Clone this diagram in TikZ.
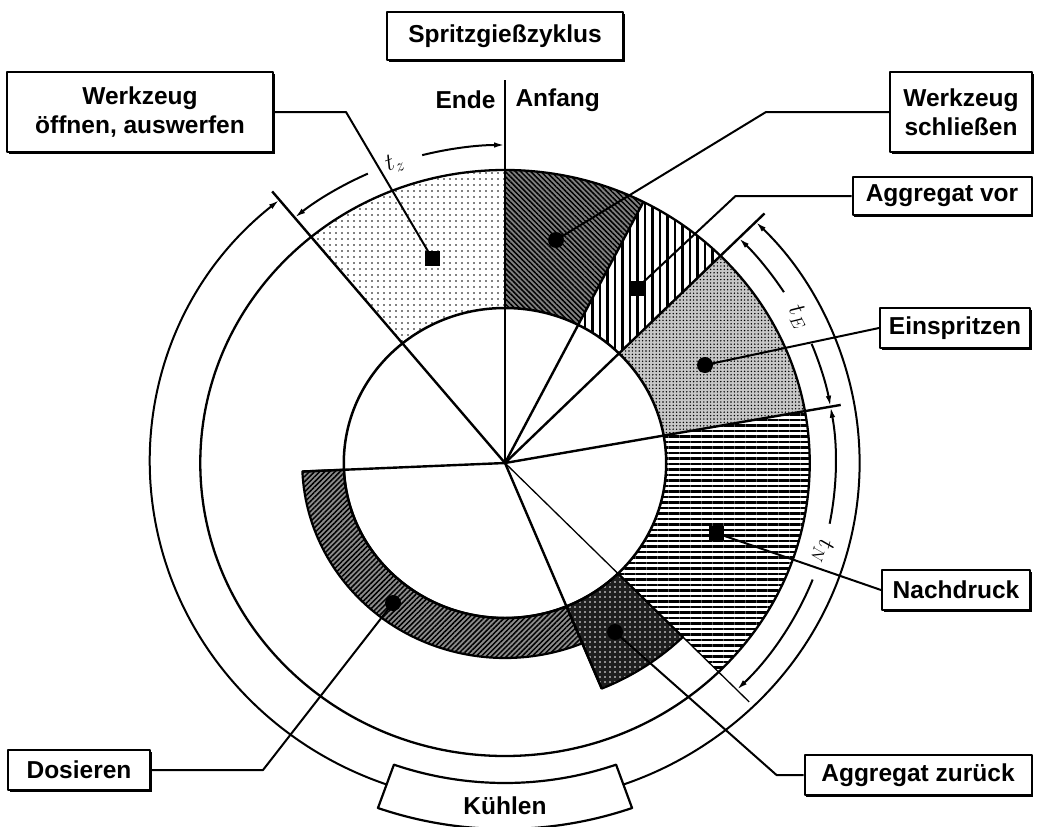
\documentclass[tikz,border=0pt]{standalone}
\usepackage{fontspec}
\setmainfont{Liberation Sans}
\usetikzlibrary{arrows.meta,patterns.meta,shadows}

% annular piece: start angle, end angle, inner radius, outer radius
\newcommand\ringpart[4]{(#1:#3) arc[start angle=#1,end angle=#2,radius=#3] -- (#2:#4) arc[start angle=#2,end angle=#1,radius=#4] -- cycle}
\newcommand\lbl{\fontsize{24.5}{29}\selectfont\bfseries}
\newcommand\tlbl{\fontsize{26}{28}\selectfont}

\tikzset{
  box/.style={draw, line width=2pt, fill=white, align=center, inner sep=0pt, font=\lbl,
    drop shadow={shadow xshift=1.6pt, shadow yshift=-1.6pt, opacity=1, fill=black}},
  lead/.style={line width=2pt},
  ray/.style={line width=2.4pt},
  tarc/.style={line width=2pt},
  tip/.style={-{Latex[length=11pt,width=5.5pt]}},
  spotsq/.style={fill=black, rectangle, minimum size=15pt, inner sep=0pt},
  spotci/.style={fill=black, circle, minimum size=16pt, inner sep=0pt},
  wzopen/.style={pattern={Dots[distance=6pt,radius=0.9pt]}},
  wzclose/.style={preaction={fill=black!50}, pattern={Lines[angle=-45,distance=3.6pt,line width=1.5pt]}},
  aggvor/.style={pattern={Lines[angle=90,distance=7.5pt,line width=2.8pt]}},
  inject/.style={preaction={fill=black!22}, pattern={Dots[distance=3.4pt,radius=0.8pt]}},
  hold/.style={pattern={Lines[angle=0,distance=5.5pt,line width=2.6pt]}},
  aggback/.style={preaction={fill=black!88}, pattern={Dots[distance=5pt,radius=0.9pt]}, pattern color=white},
  dosing/.style={preaction={fill=black!45}, pattern={Lines[angle=45,distance=3.6pt,line width=1.5pt]}},
}

\begin{document}
\begin{tikzpicture}[x=1pt, y=-1pt, line join=round]
\useasboundingbox (0,0) rectangle (1044,827);
\coordinate (c) at (505,463);

\begin{scope}[shift={(c)}, xscale=1.04, yscale=-1]
  % phases of the cycle
  \path[wzopen]  \ringpart{90}{129.5}{155}{293};
  \path[wzclose] \ringpart{63}{90}{155}{293};
  \path[aggvor]  \ringpart{45}{63}{155}{293};
  \path[inject]  \ringpart{10.2}{45}{155}{293};
  \path[hold]    \ringpart{-45.5}{10.2}{155}{293};
  \draw[aggback, line width=2.2pt] \ringpart{-67.6}{-45.5}{155}{244};
  \draw[dosing, line width=2.2pt]  \ringpart{182.5}{292.4}{155}{195};

  % circles
  \draw[line width=2.5pt] (0,0) circle[radius=155];
  \draw[line width=2.3pt] (0,0) circle[radius=293];

  % rays from the centre
  \draw[ray] (0,0) -- (90:383);
  \draw[ray] (0,0) -- (129.5:352);
  \draw[ray] (0,0) -- (63:293);
  \draw[ray] (0,0) -- (45:353);
  \draw[ray] (0,0) -- (10.2:328);
  \draw[line width=1.3pt] (0,0) -- (-45.5:335);
  \draw[ray] (0,0) -- (-67.6:244);
  \draw[ray] (0,0) -- (182.5:195);

  % times
  \draw[tarc, tip] (114.5:318) arc[start angle=114.5, end angle=129.5, radius=318];
  \draw[tarc, tip] (104.5:318) arc[start angle=104.5, end angle=90, radius=318];
  \node[rotate=20, font=\tlbl] (tz) at (109.5:318) {$t_z$};
  \draw[tarc, tip] (32.5:318) arc[start angle=32.5, end angle=45, radius=318];
  \draw[tarc, tip] (22:318) arc[start angle=22, end angle=10.2, radius=318];
  \node[rotate=-62, font=\tlbl] (tE) at (27.3:318) {$t_E$};
  \draw[tarc, tip] (-11:318) arc[start angle=-11, end angle=10.2, radius=318];
  \draw[tarc, tip] (-21.5:318) arc[start angle=-21.5, end angle=-45.5, radius=318];
  \node[rotate=-106, font=\tlbl] (tN) at (-16.2:318) {$t_N$};

  % cooling
  \draw[tarc, {Latex[length=11pt,width=5.5pt]}-{Latex[length=11pt,width=5.5pt]}]
    (129.5:341) arc[start angle=129.5, end angle=405, radius=341];
  \draw[line width=2.2pt, fill=white] \ringpart{250.5}{289.5}{320}{366};
\end{scope}
\node[font=\lbl] (kuehl) at (505,806) {Kühlen};

% start / end
\node[font=\lbl, anchor=east] (ende) at (499,100) {Ende};
\node[font=\lbl, anchor=west] (anf) at (512,100) {Anfang};
\node[box, minimum width=236pt, minimum height=48pt] (cyc) at (505,36) {Spritzgießzyklus};

% markers
\node[spotsq] (sOpen) at (432,258) {};
\node[spotci] (sClose) at (556,240) {};
\node[spotsq] (sVor) at (637,288) {};
\node[spotci] (sInj) at (705,365) {};
\node[spotsq] (sHold) at (716,533) {};
\node[spotci] (sBack) at (615,632) {};
\node[spotci] (sDos) at (393,603) {};

% labels
\node[box, minimum width=266pt, minimum height=80pt] (bOpen) at (140,112) {Werkzeug\\öffnen, auswerfen};
\node[box, minimum width=142pt, minimum height=80pt] (bClose) at (961,112) {Werkzeug\\schließen};
\node[box, minimum width=179pt, minimum height=38pt] (bVor) at (942,196) {Aggregat vor};
\node[box, minimum width=150pt, minimum height=40pt] (bInj) at (955,328) {Einspritzen};
\node[box, minimum width=148pt, minimum height=40pt] (bHold) at (956,590) {Nachdruck};
\node[box, minimum width=227pt, minimum height=40pt] (bBack) at (918,775) {Aggregat zurück};
\node[box, minimum width=142pt, minimum height=40pt] (bDos) at (79,770) {Dosieren};

% leaders
\draw[lead] (bOpen.east) -- ++(72,0) -- (sOpen.center);
\draw[lead] (bClose.west) -- ++(-123,0) -- (sClose.center);
\draw[lead] (bVor.west) -- ++(-116,0) -- (sVor.center);
\draw[lead] (bInj.west) -- (sInj.center);
\draw[lead] (bHold.west) -- (sHold.center);
\draw[lead] (bBack.west) -- ++(-27,0) -- (sBack.center);
\draw[lead] (bDos.east) -- ++(112,0) -- (sDos.center);
\end{tikzpicture}
\end{document}
